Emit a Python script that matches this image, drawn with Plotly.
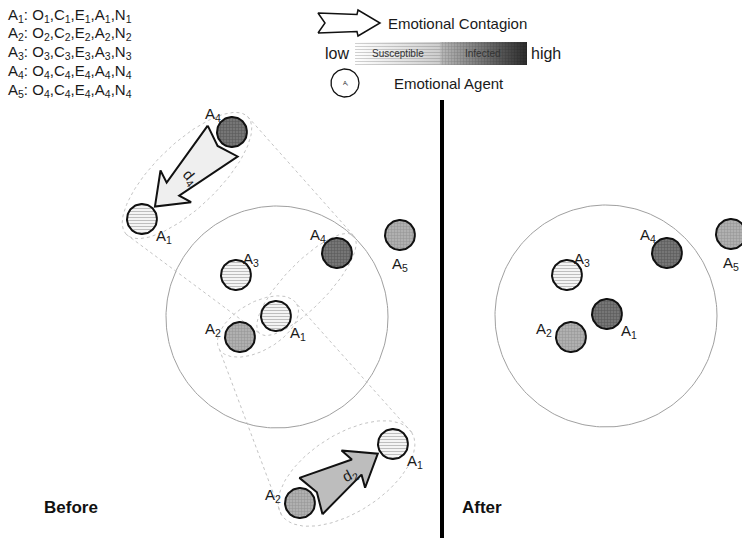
import numpy as np
import plotly.graph_objects as go

FONT = "Liberation Sans, Arial, sans-serif"

# personality profile of each agent (top left legend)
profile_agent = [1, 2, 3, 4, 5]
profile_trait = [1, 2, 3, 4, 4]

# agents before contagion (inside / near the neighbourhood circle)
before_name = ["A1", "A2", "A3", "A4", "A5"]
before_x = [276, 240, 236, 337, 400]
before_y = [316, 337, 275, 253, 235]
before_state = ["low", "mid", "low", "high", "mid"]

# agents after contagion
after_name = ["A1", "A2", "A3", "A4", "A5"]
after_x = [607, 571, 567, 667, 731]
after_y = [314, 337, 275, 253, 234]
after_state = ["high", "mid", "low", "high", "mid"]

# zoomed-in contagion pairs: (source, target)
pair_top = {"name": ["A4", "A1"], "x": [232, 142], "y": [132, 219], "state": ["high", "low"], "d": "d<sub>4</sub>"}
pair_bot = {"name": ["A2", "A1"], "x": [300, 393], "y": [503, 444], "state": ["mid", "low"], "d": "d<sub>2</sub>"}

# neighbourhood circles (centre x, centre y, radius)
zone_x = [277, 606]
zone_y = [317, 316]
zone_r = [111, 111]

R = 15
LABEL_OFF = {"A1": (22, 17), "A2": (-27, -8), "A3": (15, -16), "A4": (-19, -18), "A5": (0, 29)}

STATE_STYLE = {
    "low": dict(fillcolor="#f4f4f4",
                fillpattern=dict(shape="-", fgcolor="#888888", bgcolor="#f4f4f4", size=3, solidity=0.35)),
    "mid": dict(fillcolor="#adadad",
                fillpattern=dict(shape="+", fgcolor="#777777", bgcolor="#b0b0b0", size=3, solidity=0.3)),
    "high": dict(fillcolor="#6c6c6c",
                 fillpattern=dict(shape="+", fgcolor="#363636", bgcolor="#767676", size=3, solidity=0.3)),
}


def circle_xy(cx, cy, r, n=90):
    t = np.linspace(0, 2 * np.pi, n)
    return cx + r * np.cos(t), cy + r * np.sin(t)


def unit(x0, y0, x1, y1):
    d = np.hypot(x1 - x0, y1 - y0)
    return (x1 - x0) / d, (y1 - y0) / d, d


def ellipse_xy(x0, y0, x1, y1, pad, b, n=140):
    ux, uy, d = unit(x0, y0, x1, y1)
    cx, cy = (x0 + x1) / 2, (y0 + y1) / 2
    a = d / 2 + pad
    t = np.linspace(0, 2 * np.pi, n)
    return (cx + a * np.cos(t) * ux - b * np.sin(t) * uy,
            cy + a * np.cos(t) * uy + b * np.sin(t) * ux)


def ellipse_ends(x0, y0, x1, y1, pad):
    ux, uy, d = unit(x0, y0, x1, y1)
    cx, cy = (x0 + x1) / 2, (y0 + y1) / 2
    a = d / 2 + pad
    return (cx - a * ux, cy - a * uy), (cx + a * ux, cy + a * uy)


def arrow_xy(x0, y0, x1, y1, tail_w=21.5, notch=7, shaft_w=9, head_w=22, head_in=25, head_out=29):
    ux, uy, L = unit(x0, y0, x1, y1)
    vx, vy = -uy, ux
    local = [(0, tail_w), (L - head_in, shaft_w), (L - head_out, head_w), (L, 0),
             (L - head_out, -head_w), (L - head_in, -shaft_w), (0, -tail_w), (notch, 0), (0, tail_w)]
    xs = [x0 + s * ux + t * vx for s, t in local]
    ys = [y0 + s * uy + t * vy for s, t in local]
    return xs, ys


fig = go.Figure()
annotations = []


def add_text(x, y, text, size=14, **kw):
    annotations.append(dict(x=x, y=y, xref="x", yref="y", text=text, showarrow=False,
                            font=dict(family=FONT, size=size, color=kw.pop("color", "#1a1a1a")), **kw))


def add_agent(name, x, y, state, label=True):
    cx, cy = circle_xy(x, y, R)
    fig.add_trace(go.Scatter(x=cx, y=cy, mode="lines", fill="toself",
                             line=dict(color="#111111", width=2), hoverinfo="skip",
                             **STATE_STYLE[state]))
    if label:
        dx, dy = LABEL_OFF[name]
        add_text(x + dx, y + dy, f"A<sub>{name[1:]}</sub>", size=15)


def dotted(xs, ys):
    fig.add_trace(go.Scatter(x=xs, y=ys, mode="lines", hoverinfo="skip",
                             line=dict(color="#c4c4c4", width=1, dash="dot")))


# neighbourhood circles
for zx, zy, zr in zip(zone_x, zone_y, zone_r):
    cx, cy = circle_xy(zx, zy, zr, 240)
    fig.add_trace(go.Scatter(x=cx, y=cy, mode="lines", hoverinfo="skip",
                             line=dict(color="#a0a0a0", width=1)))

# ellipses around interacting pairs, and connectors to their zoomed views
i1, i4, i2 = 0, 3, 1
inner_a = (before_x[i4], before_y[i4], before_x[i1], before_y[i1])
inner_b = (before_x[i2], before_y[i2], before_x[i1], before_y[i1])
top = (pair_top["x"][0], pair_top["y"][0], pair_top["x"][1], pair_top["y"][1])
bot = (pair_bot["x"][0], pair_bot["y"][0], pair_bot["x"][1], pair_bot["y"][1])

for seg, pad, b in [(inner_a, 24, 22), (inner_b, 24, 24), (top, 22, 32), (bot, 22, 39)]:
    ex, ey = ellipse_xy(*seg, pad, b)
    dotted(ex, ey)

for big, small, pb, ps in [(top, inner_a, 22, 24), (bot, inner_b, 22, 24)]:
    e_big = ellipse_ends(*big, pb)
    e_small = ellipse_ends(*small, ps)
    for k in range(2):
        dotted([e_big[k][0], e_small[k][0]], [e_big[k][1], e_small[k][1]])

# contagion arrows in the zoomed views
for pair, fill, ang in [(pair_top, "#efefef", 50), (pair_bot, "#bdbdbd", -28)]:
    sx, sy, tx, ty = pair["x"][0], pair["y"][0], pair["x"][1], pair["y"][1]
    ux, uy, d = unit(sx, sy, tx, ty)
    ax, ay = arrow_xy(sx + 13 * ux, sy + 13 * uy, tx - 18 * ux, ty - 18 * uy)
    fig.add_trace(go.Scatter(x=ax, y=ay, mode="lines", fill="toself", fillcolor=fill,
                             line=dict(color="#111111", width=2), hoverinfo="skip"))
    mx, my = (sx + tx) / 2, (sy + ty) / 2
    add_text(mx + 3, my + 2, pair["d"], size=15, textangle=ang)
    for n, x, y, s in zip(pair["name"], pair["x"], pair["y"], pair["state"]):
        add_agent(n, x, y, s)

for n, x, y, s in zip(before_name, before_x, before_y, before_state):
    add_agent(n, x, y, s)
for n, x, y, s in zip(after_name, after_x, after_y, after_state):
    add_agent(n, x, y, s)

# ---- legend (top) ----
for row, (a, t) in enumerate(zip(profile_agent, profile_trait)):
    txt = f"A<sub>{a}</sub>: " + ",".join(f"{c}<sub>{t}</sub>" for c in "OCEAN")
    add_text(6, 15 + row * 18.8, txt, size=15, xanchor="left")

lx, ly = arrow_xy(318, 23, 380, 23, tail_w=10, notch=7, shaft_w=8.5, head_w=13, head_in=23, head_out=22)
fig.add_trace(go.Scatter(x=lx, y=ly, mode="lines", fill="toself", fillcolor="white",
                         line=dict(color="#111111", width=1.5), hoverinfo="skip"))
add_text(386, 23, "Emotional Contagion", size=15, xanchor="left")

bar_x0, bar_xm, bar_x1, bar_y0, bar_y1 = 355, 440, 527, 42, 65
fig.add_trace(go.Scatter(x=[bar_x0, bar_x1, bar_x1, bar_x0, bar_x0], y=[bar_y0, bar_y0, bar_y1, bar_y1, bar_y0],
                         mode="lines", fill="toself", line=dict(width=0), hoverinfo="skip",
                         fillgradient=dict(type="horizontal",
                                           colorscale=[[0, "#ffffff"], [0.49, "#cdcdcd"],
                                                       [0.5, "#b8b8b8"], [1, "#2c2c2c"]])))
fig.add_trace(go.Scatter(x=[bar_x0, bar_xm, bar_xm, bar_x0, bar_x0], y=[bar_y0, bar_y0, bar_y1, bar_y1, bar_y0],
                         mode="lines", fill="toself", fillcolor="rgba(0,0,0,0)", line=dict(width=0),
                         hoverinfo="skip",
                         fillpattern=dict(shape="-", fgcolor="rgba(100,100,100,0.6)",
                                          bgcolor="rgba(0,0,0,0)", size=3, solidity=0.35)))
fig.add_trace(go.Scatter(x=[bar_xm, bar_x1, bar_x1, bar_xm, bar_xm], y=[bar_y0, bar_y0, bar_y1, bar_y1, bar_y0],
                         mode="lines", fill="toself", fillcolor="rgba(0,0,0,0)", line=dict(width=0),
                         hoverinfo="skip",
                         fillpattern=dict(shape="+", fgcolor="rgba(0,0,0,0.35)",
                                          bgcolor="rgba(0,0,0,0)", size=3, solidity=0.3)))
add_text(398, 53, "Susceptible", size=10, color="#333333")
add_text(483, 53, "Infected", size=10, color="#333333")
add_text(337, 53, "low", size=16)
add_text(546, 53, "high", size=16)

cx, cy = circle_xy(345, 83, 14)
fig.add_trace(go.Scatter(x=cx, y=cy, mode="lines", fill="toself", fillcolor="white",
                         line=dict(color="#111111", width=1.3), hoverinfo="skip"))
add_text(345, 83, "A<sub>i</sub>", size=6)
add_text(392, 83, "Emotional Agent", size=15, xanchor="left")

add_text(71, 507, "<b>Before</b>", size=17, color="#111111")
add_text(482, 507, "<b>After</b>", size=17, color="#111111")

fig.update_layout(
    width=742, height=538,
    margin=dict(l=0, r=0, t=0, b=0),
    paper_bgcolor="white", plot_bgcolor="white",
    showlegend=False,
    annotations=annotations,
    shapes=[dict(type="line", xref="x", yref="y", x0=442, x1=442, y0=100, y1=540,
                 line=dict(color="black", width=4))],
    xaxis=dict(range=[0, 742], visible=False, fixedrange=True),
    yaxis=dict(range=[538, 0], visible=False, fixedrange=True),
)

# the page's default body margin would push the figure 8px down and right
fig.write_html("out.html", config={"displayModeBar": False},
               post_script="document.body.style.margin='0';")
